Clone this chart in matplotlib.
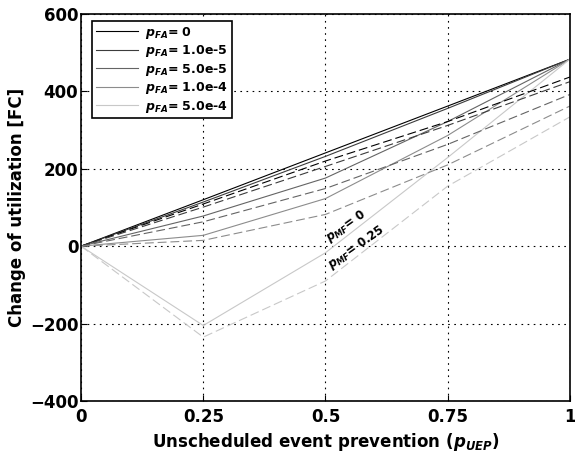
import matplotlib
matplotlib.use("Agg")
import matplotlib.pyplot as plt

# ---- data ----
x_uep = [0, 0.25, 0.5, 0.75, 1.0]
pfa_labels = ["0", "1.0e-5", "5.0e-5", "1.0e-4", "5.0e-4"]

# p_MF = 0 (solid)
solid_pfa_0    = [0, 120, 241, 362, 483]
solid_pfa_1e5  = [0, 114, 232, 356, 483]
solid_pfa_5e5  = [0, 78, 176, 322, 483]
solid_pfa_1e4  = [0, 28, 123, 286, 483]
solid_pfa_5e4  = [0, -205, -17, 229, 483]

# p_MF = 0.25 (dashed)
dashed_pfa_0   = [0, 109, 220, 322, 437]
dashed_pfa_1e5 = [0, 101, 206, 312, 425]
dashed_pfa_5e5 = [0, 63, 149, 263, 392]
dashed_pfa_1e4 = [0, 15, 82, 210, 362]
dashed_pfa_5e4 = [0, -235, -90, 155, 334]

solid_series = [solid_pfa_0, solid_pfa_1e5, solid_pfa_5e5, solid_pfa_1e4, solid_pfa_5e4]
dashed_series = [dashed_pfa_0, dashed_pfa_1e5, dashed_pfa_5e5, dashed_pfa_1e4, dashed_pfa_5e4]

x_ticks = [0, 0.25, 0.5, 0.75, 1]
x_ticklabels = ["0", "0.25", "0.5", "0.75", "1"]
y_ticks = [-400, -200, 0, 200, 400, 600]

# ---- style ----
plt.rcParams["font.family"] = ["DejaVu Sans"]
plt.rcParams["font.weight"] = "bold"
plt.rcParams["mathtext.fontset"] = "custom"
plt.rcParams["mathtext.rm"] = "DejaVu Sans:bold"
plt.rcParams["mathtext.it"] = "DejaVu Sans:italic:bold"
plt.rcParams["mathtext.bf"] = "DejaVu Sans:bold"

grays = ["#000000", "#3c3c3c", "#646464", "#8c8c8c", "#c8c8c8"]

fig = plt.figure(figsize=(5.75, 4.58), dpi=100)
ax = fig.add_axes([0.141, 0.1245, 0.850, 0.845])

for ys, c, lab in zip(solid_series, grays, pfa_labels):
    ax.plot(x_uep, ys, color=c, lw=0.8, label=r"$p_{FA}$= " + lab)
for ys, c in zip(dashed_series, grays):
    ax.plot(x_uep, ys, color=c, lw=0.8, linestyle=(0, (8, 3.5)))

ax.set_xlim(0, 1)
ax.set_ylim(-400, 600)
ax.set_xticks(x_ticks)
ax.set_xticklabels(x_ticklabels)
ax.set_yticks(y_ticks)
ax.tick_params(direction="in", length=4, width=0.8, labelsize=12)
ax.tick_params(axis="x", pad=5)
ax.tick_params(axis="y", pad=2)
for lbl in ax.get_xticklabels() + ax.get_yticklabels():
    lbl.set_fontweight("bold")
ax.grid(True, color="k", linestyle=(0, (1.5, 4)), linewidth=0.8)
for sp in ax.spines.values():
    sp.set_linewidth(1.2)

ax.set_xlabel(r"Unscheduled event prevention ($p_{UEP}$)", fontsize=12, fontweight="bold", labelpad=4)
ax.set_ylabel("Change of utilization [FC]", fontsize=12, fontweight="bold", labelpad=3)

leg = ax.legend(loc="upper left", bbox_to_anchor=(0.0225, 0.982), borderaxespad=0,
                fancybox=False, framealpha=1, edgecolor="k", fontsize=9,
                handlelength=3.4, handletextpad=0.55, labelspacing=0.2,
                borderpad=0.3)
leg.get_frame().set_linewidth(1.2)
for t in leg.get_texts():
    t.set_fontweight("bold")

ax.text(0.507, 10, r"$p_{MF}$= 0", rotation=35, rotation_mode="anchor",
        ha="left", va="baseline", fontsize=8.5, fontweight="bold")
ax.text(0.511, -58, r"$p_{MF}$= 0.25", rotation=35, rotation_mode="anchor",
        ha="left", va="baseline", fontsize=8.5, fontweight="bold")

fig.savefig("out.png", dpi=100)
